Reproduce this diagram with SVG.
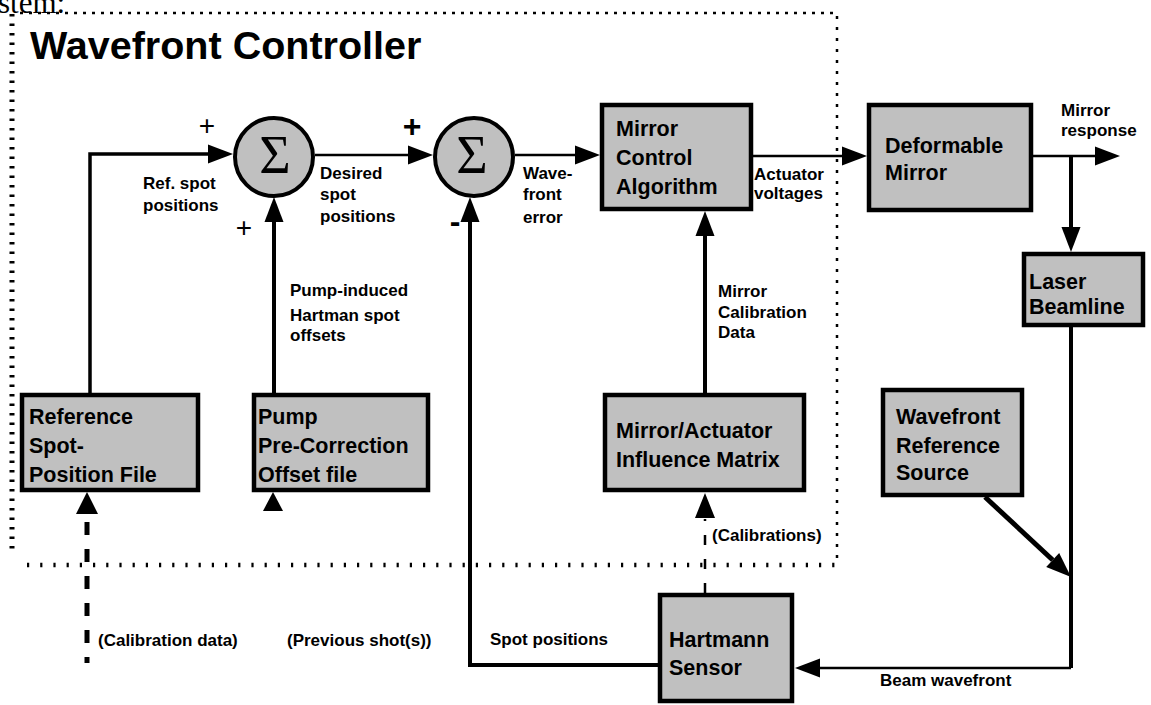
<svg xmlns="http://www.w3.org/2000/svg" width="1151" height="705" viewBox="0 0 1151 705">
  <style>
    .box { fill: #c0c0c0; stroke: #000; stroke-width: 4.5; }
    .sum { fill: #c0c0c0; stroke: #000; stroke-width: 4; }
    .bt { font-family: "Liberation Sans", Arial, sans-serif; font-weight: bold; font-size: 21.5px; fill: #000; }
    .lb { font-family: "Liberation Sans", Arial, sans-serif; font-weight: bold; font-size: 17px; fill: #000; }
    .sig { font-family: "Liberation Serif", "Times New Roman", serif; font-size: 54px; fill: #000; text-anchor: middle; }
    .sign { font-family: "Liberation Sans", Arial, sans-serif; fill: #000; text-anchor: middle; }
    .w { fill: none; stroke: #000; }
    .frame { fill: none; stroke: #000; }
  </style>
  <defs>
    <marker id="ah" markerUnits="userSpaceOnUse" markerWidth="26" markerHeight="20" viewBox="0 -10 26 20" refX="0" refY="0" orient="auto" overflow="visible">
      <path d="M0,-9.5 L25,0 L0,9.5 Z" fill="#000"/>
    </marker>
  </defs>

  <rect width="1151" height="705" fill="#fff"/>

  <!-- heading fragment above the frame -->
  <text x="-2" y="13" font-family="Liberation Serif, Times New Roman, serif" font-size="31" fill="#000">stem:</text>

  <!-- dotted controller frame -->
  <g id="frame">
    <line class="frame" x1="20" y1="13" x2="836" y2="13" stroke-width="2.5" stroke-dasharray="3 6"/>
    <line class="frame" x1="12" y1="14" x2="12" y2="555" stroke-width="5" stroke-dasharray="2.5 7"/>
    <line class="frame" x1="27" y1="565" x2="836" y2="565" stroke-width="4.5" stroke-dasharray="2.2 11"/>
    <line class="frame" x1="837" y1="16" x2="837" y2="560" stroke-width="2.5" stroke-dasharray="3 8"/>
    <text x="30" y="59" font-family="Liberation Sans, Arial, sans-serif" font-weight="bold" font-size="39.5" fill="#000">Wavefront Controller</text>
  </g>

  <!-- connectors -->
  <g id="connectors">
    <path class="w" d="M90,393 V154 H208" stroke-width="3.5" marker-end="url(#ah)"/>
    <path class="w" d="M315,155 H408" stroke-width="2.5" marker-end="url(#ah)"/>
    <path class="w" d="M274,393 V222" stroke-width="4" marker-end="url(#ah)"/>
    <path class="w" d="M515,155 H575" stroke-width="2.5" marker-end="url(#ah)"/>
    <path class="w" d="M658,665 H470 V222" stroke-width="4" marker-end="url(#ah)"/>
    <path class="w" d="M753,156 H842" stroke-width="2.5" marker-end="url(#ah)"/>
    <path class="w" d="M1033,156 H1095" stroke-width="2.5" marker-end="url(#ah)"/>
    <path class="w" d="M1071,156 V227" stroke-width="4" marker-end="url(#ah)"/>
    <path class="w" d="M1071,327 V668" stroke-width="4"/>
    <path class="w" d="M1071,668 H820" stroke-width="2.5" marker-end="url(#ah)"/>
    <path class="w" d="M985,497 L1052.7,560" stroke-width="5" marker-end="url(#ah)"/>
    <path class="w" d="M705,393 V236" stroke-width="4" marker-end="url(#ah)"/>
    <!-- calibration feeds (dashed) -->
    <path class="w" d="M705,593 V519" stroke-width="2.5" stroke-dasharray="10 14"/>
    <polygon points="705,493 715,518 695,518" fill="#000"/>
    <path class="w" d="M87,522 V663" stroke-width="5" stroke-dasharray="13 14"/>
    <polygon points="87,492 98,514 76,514" fill="#000"/>
    <!-- previous-shot input to the pump offset file -->
    <polygon points="273,492 283,511 263,511" fill="#000"/>
  </g>

  <!-- summing junctions -->
  <g id="sum1">
    <circle class="sum" cx="274" cy="157" r="39"/>
    <text class="sig" x="275" y="173">Σ</text>
  </g>
  <g id="sum2">
    <circle class="sum" cx="474" cy="157" r="39"/>
    <text class="sig" x="472" y="173">Σ</text>
  </g>

  <!-- signs -->
  <g id="signs">
    <text class="sign" x="207" y="135" font-size="28">+</text>
    <text class="sign" x="412" y="137" font-size="32" font-weight="bold">+</text>
    <text class="sign" x="244" y="237" font-size="28">+</text>
    <text class="sign" x="455" y="232" font-size="32" font-weight="bold">-</text>
  </g>

  <!-- blocks -->
  <g id="mirror-control">
    <rect class="box" x="602" y="105" width="149" height="104"/>
    <text class="bt" x="616" y="136">Mirror</text>
    <text class="bt" x="616" y="165">Control</text>
    <text class="bt" x="616" y="194">Algorithm</text>
  </g>
  <g id="deformable-mirror">
    <rect class="box" x="869" y="105" width="162" height="105"/>
    <text class="bt" x="885" y="152.5">Deformable</text>
    <text class="bt" x="885" y="179.5">Mirror</text>
  </g>
  <g id="laser-beamline">
    <rect class="box" x="1024" y="254" width="119" height="71"/>
    <text class="bt" x="1029" y="288.5">Laser</text>
    <text class="bt" x="1029" y="313.5">Beamline</text>
  </g>
  <g id="wavefront-reference">
    <rect class="box" x="883" y="390" width="139" height="105"/>
    <text class="bt" x="896" y="423.5">Wavefront</text>
    <text class="bt" x="896" y="452.5">Reference</text>
    <text class="bt" x="896" y="479.5">Source</text>
  </g>
  <g id="hartmann-sensor">
    <rect class="box" x="660" y="595" width="132" height="106"/>
    <text class="bt" x="669" y="646.5">Hartmann</text>
    <text class="bt" x="669" y="674.5">Sensor</text>
  </g>
  <g id="influence-matrix">
    <rect class="box" x="605" y="395" width="199" height="95"/>
    <text class="bt" x="616" y="437.5">Mirror/Actuator</text>
    <text class="bt" x="616" y="466.5">Influence Matrix</text>
  </g>
  <g id="reference-file">
    <rect class="box" x="22" y="395" width="176" height="95"/>
    <text class="bt" x="29" y="423.5">Reference</text>
    <text class="bt" x="29" y="453">Spot-</text>
    <text class="bt" x="29" y="482">Position File</text>
  </g>
  <g id="pump-offset">
    <rect class="box" x="254" y="395" width="174" height="95"/>
    <text class="bt" x="258" y="423.5">Pump</text>
    <text class="bt" x="258" y="453">Pre-Correction</text>
    <text class="bt" x="258" y="482">Offset file</text>
  </g>

  <!-- signal labels -->
  <g id="labels">
    <text class="lb" x="143" y="189">Ref. spot</text>
    <text class="lb" x="143" y="211">positions</text>
    <text class="lb" x="320" y="179">Desired</text>
    <text class="lb" x="320" y="200">spot</text>
    <text class="lb" x="320" y="222">positions</text>
    <text class="lb" x="523" y="179">Wave-</text>
    <text class="lb" x="523" y="200">front</text>
    <text class="lb" x="523" y="223">error</text>
    <text class="lb" x="754" y="180">Actuator</text>
    <text class="lb" x="754" y="199">voltages</text>
    <text class="lb" x="1061" y="116">Mirror</text>
    <text class="lb" x="1061" y="136">response</text>
    <text class="lb" x="290" y="296">Pump-induced</text>
    <text class="lb" x="290" y="320.5">Hartman spot</text>
    <text class="lb" x="290" y="340.5">offsets</text>
    <text class="lb" x="718" y="297">Mirror</text>
    <text class="lb" x="718" y="318">Calibration</text>
    <text class="lb" x="718" y="338">Data</text>
    <text class="lb" x="712" y="540.5">(Calibrations)</text>
    <text class="lb" x="98" y="646">(Calibration data)</text>
    <text class="lb" x="287" y="646">(Previous shot(s))</text>
    <text class="lb" x="490" y="645">Spot positions</text>
    <text class="lb" x="880" y="686">Beam wavefront</text>
  </g>
</svg>
